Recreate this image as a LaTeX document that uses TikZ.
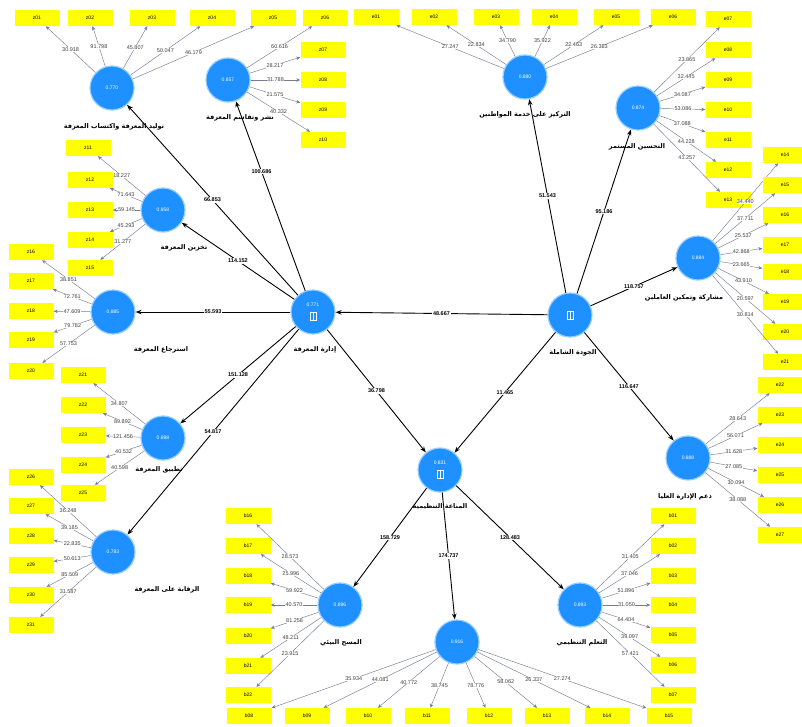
\documentclass[tikz,border=0pt]{standalone}
\usepackage{fontspec}
\setmainfont{Liberation Sans}
\newfontfamily\arabicfont[Script=Arabic]{DejaVu Sans}
\TeXXeTstate=1
\usetikzlibrary{arrows.meta}
\definecolor{lvblue}{RGB}{30,144,255}
\definecolor{lvhalo}{RGB}{150,205,255}
\definecolor{mvyellow}{RGB}{255,255,0}
\definecolor{loadline}{RGB}{120,125,150}
\newcommand\arlabel[1]{{\arabicfont\bfseries\beginR #1\endR}}
\begin{document}
\begin{tikzpicture}[x=1pt,y=-1pt,
  lv/.style={circle,fill=lvblue,draw=lvhalo,line width=1.2pt,minimum size=44pt,inner sep=0pt,
    text=white,font=\fontsize{5}{6}\selectfont},
  mv/.style={rectangle,fill=mvyellow,minimum width=45pt,minimum height=16pt,inner sep=0pt,
    font=\fontsize{5}{6}\selectfont},
  cname/.style={font=\fontsize{6.5}{7}\selectfont,inner sep=0pt},
  ind/.style={draw=loadline,line width=0.45pt,-{Stealth[length=4pt,width=3.5pt]}},
  nl/.style={fill=white,inner sep=0.4pt,text=black!75,font=\fontsize{5.5}{6}\selectfont},
  st/.style={draw=black,line width=0.9pt,-{Stealth[length=6pt,width=4.5pt]}},
  sl/.style={fill=white,inner sep=0.6pt,font=\fontsize{5.5}{6}\selectfont\bfseries}
]
\useasboundingbox (0,0) rectangle (802,726);
\fill[white] (0,0) rectangle (802,726);

% latent variables
\node[lv] (gen)   at (112,88)  {0.770};
\node[lv] (shar)  at (228,80)  {0.857};
\node[lv] (cit)   at (525,77)  {0.880};
\node[lv] (cont)  at (638,108) {0.874};
\node[lv] (stor)  at (163,210) {0.858};
\node[lv] (retr)  at (113,312) {0.885};
\node[lv] (km)    at (313,312) {};
\node[lv] (tqm)   at (570,315) {};
\node[lv] (emp)   at (698,258) {0.884};
\node[lv] (app)   at (163,438) {0.898};
\node[lv] (ctrl)  at (113,552) {0.783};
\node[lv] (top)   at (688,458) {0.888};
\node[lv] (imm)   at (440,470) {};
\node[lv] (scan)  at (340,605) {0.896};
\node[lv] (bot)   at (457,642) {0.916};
\node[lv] (learn) at (580,605) {0.893};

% values and model icons inside the second-order constructs
\node[text=white,font=\fontsize{5}{6}\selectfont] (kmval) at (313,305) {0.771};
\node[text=white,font=\fontsize{5}{6}\selectfont] (immval) at (440,463) {0.831};
\draw[white,line width=0.5pt] (310,312) rectangle (316,320) (313,312) -- (313,320);
\draw[white,line width=0.5pt] (437,470) rectangle (443,478) (440,470) -- (440,478);
\draw[white,line width=0.5pt] (567,311) rectangle (573,319) (570,311) -- (570,319);

% indicators and outer loadings
\foreach \nm/\x/\y/\v in {z01/37/18/30.918, z02/90/18/91.798, z03/152/18/45.807, z04/212/18/50.047, z05/273/18/46.179}
  {\node[mv] (\nm) at (\x,\y) {\nm}; \draw[ind] (gen) -- node[nl]{\v} (\nm);}
\foreach \nm/\x/\y/\v in {z06/325/18/60.616, z07/323/50/28.217, z08/323/80/31.788, z09/323/110/21.575, z10/323/140/40.332}
  {\node[mv] (\nm) at (\x,\y) {\nm}; \draw[ind] (shar) -- node[nl]{\v} (\nm);}
\foreach \nm/\x/\y/\v in {e01/376/17/27.247, e02/434/17/22.834, e03/496/17/34.790, e04/554/17/35.922, e05/616/17/22.463, e06/673/17/26.383}
  {\node[mv] (\nm) at (\x,\y) {\nm}; \draw[ind] (cit) -- node[nl]{\v} (\nm);}
\foreach \nm/\x/\y/\v in {e07/728/19/23.865, e08/728/50/32.445, e09/728/80/34.087, e10/728/110/53.086, e11/728/140/37.088, e12/728/170/44.228, e13/728/200/41.257}
  {\node[mv] (\nm) at (\x,\y) {\nm}; \draw[ind] (cont) -- node[nl]{\v} (\nm);}
\foreach \nm/\x/\y/\v in {e14/785/155/34.440, e15/785/185/37.711, e16/785/215/25.537, e17/785/245/42.868, e18/785/272/23.665, e19/785/302/43.910, e20/785/332/20.597, e21/785/362/30.814}
  {\node[mv] (\nm) at (\x,\y) {\nm}; \draw[ind] (emp) -- node[nl]{\v} (\nm);}
\foreach \nm/\x/\y/\v in {e22/780/385/28.643, e23/780/415/56.071, e24/780/445/31.628, e25/780/475/27.085, e26/780/505/30.094, e27/780/535/38.088}
  {\node[mv] (\nm) at (\x,\y) {\nm}; \draw[ind] (top) -- node[nl]{\v} (\nm);}
\foreach \nm/\x/\y/\v in {z11/88/148/18.227, z12/90/180/71.643, z13/90/210/59.145, z14/90/240/45.293, z15/90/268/31.277}
  {\node[mv] (\nm) at (\x,\y) {\nm}; \draw[ind] (stor) -- node[nl]{\v} (\nm);}
\foreach \nm/\x/\y/\v in {z16/31/252/38.851, z17/31/281/72.761, z18/31/311/47.609, z19/31/340/79.782, z20/31/371/57.753}
  {\node[mv] (\nm) at (\x,\y) {\nm}; \draw[ind] (retr) -- node[nl]{\v} (\nm);}
\foreach \nm/\x/\y/\v in {z21/83/375/34.807, z22/83/405/89.892, z23/83/435/121.456, z24/83/465/40.532, z25/83/493/40.598}
  {\node[mv] (\nm) at (\x,\y) {\nm}; \draw[ind] (app) -- node[nl]{\v} (\nm);}
\foreach \nm/\x/\y/\v in {z26/31/477/36.248, z27/31/506/39.185, z28/31/536/22.835, z29/31/565/50.613, z30/31/595/85.509, z31/31/625/31.587}
  {\node[mv] (\nm) at (\x,\y) {\nm}; \draw[ind] (ctrl) -- node[nl]{\v} (\nm);}
\foreach \nm/\x/\y/\v in {b16/248/516/28.573, b17/248/546/25.996, b18/248/576/59.922, b19/248/605/40.570, b20/248/636/81.258, b21/248/666/48.211, b22/248/695/23.915}
  {\node[mv] (\nm) at (\x,\y) {\nm}; \draw[ind] (scan) -- node[nl]{\v} (\nm);}
\foreach \nm/\x/\y/\v in {b08/249/716/35.934, b09/307/716/44.081, b10/368/716/40.772, b11/427/716/38.745, b12/489/716/78.776, b13/547/716/58.062, b14/607/716/26.337, b15/669/716/27.274}
  {\node[mv] (\nm) at (\x,\y) {\nm}; \draw[ind] (bot) -- node[nl]{\v} (\nm);}
\foreach \nm/\x/\y/\v in {b01/673/516/31.405, b02/673/546/37.046, b03/673/576/51.896, b04/673/605/31.050, b05/673/635/64.404, b06/673/665/39.097, b07/673/695/57.421}
  {\node[mv] (\nm) at (\x,\y) {\nm}; \draw[ind] (learn) -- node[nl]{\v} (\nm);}

% structural paths
\draw[st] (tqm) -- node[sl]{48.667} (km);
\draw[st] (km) -- node[sl]{66.853} (gen);
\draw[st] (km) -- node[sl,pos=0.63]{100.686} (shar);
\draw[st] (km) -- node[sl]{114.152} (stor);
\draw[st] (km) -- node[sl]{55.593} (retr);
\draw[st] (km) -- node[sl]{151.128} (app);
\draw[st] (km) -- node[sl]{54.817} (ctrl);
\draw[st] (km) -- node[sl]{36.798} (imm);
\draw[st] (tqm) -- node[sl]{11.465} (imm);
\draw[st] (tqm) -- node[sl]{51.543} (cit);
\draw[st] (tqm) -- node[sl]{95.186} (cont);
\draw[st] (tqm) -- node[sl]{118.757} (emp);
\draw[st] (tqm) -- node[sl]{116.647} (top);
\draw[st] (imm) -- node[sl]{158.729} (scan);
\draw[st] (imm) -- node[sl]{174.737} (bot);
\draw[st] (imm) -- node[sl]{128.483} (learn);

% construct names
\node[cname] (genname)   at (114,127) {\arlabel{توليد المعرفة واكتساب المعرفة}};
\node[cname] (sharname)  at (240,118) {\arlabel{نشر وتقاسم المعرفة}};
\node[cname] (citname)   at (525,115) {\arlabel{التركيز على خدمة المواطنين}};
\node[cname] (contname)  at (637,147) {\arlabel{التحسين المستمر}};
\node[cname] (storname)  at (184,248) {\arlabel{تخزين المعرفة}};
\node[cname] (retrname)  at (161,350) {\arlabel{استرجاع المعرفة}};
\node[cname] (kmname)    at (315,350) {\arlabel{إدارة المعرفة}};
\node[cname] (tqmname)   at (573,353) {\arlabel{الجودة الشاملة}};
\node[cname] (empname)   at (684,298) {\arlabel{مشاركة وتمكين العاملين}};
\node[cname] (appname)   at (159,470) {\arlabel{تطبيق المعرفة}};
\node[cname] (ctrlname)  at (167,590) {\arlabel{الرقابة على المعرفة}};
\node[cname] (topname)   at (685,497) {\arlabel{دعم الإدارة العليا}};
\node[cname] (immname)   at (440,507) {\arlabel{المناعة التنظيمية}};
\node[cname] (scanname)  at (341,643) {\arlabel{المسح البيئي}};
\node[cname] (learnname) at (582,643) {\arlabel{التعلم التنظيمي}};
\end{tikzpicture}
\end{document}
